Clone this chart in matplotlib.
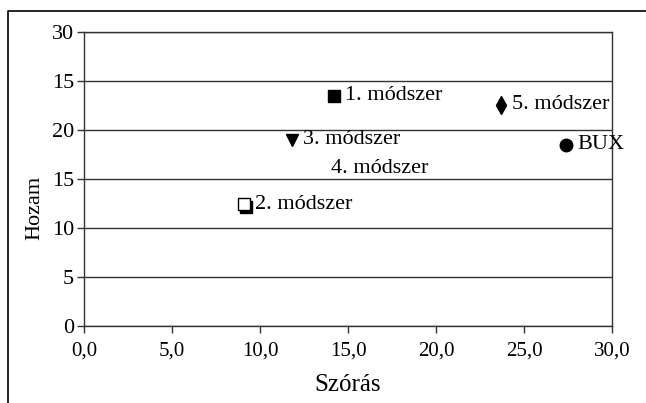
import matplotlib
matplotlib.use("Agg")
import matplotlib.pyplot as plt
import matplotlib.transforms as mtransforms
from matplotlib.lines import Line2D

plt.rcParams["font.family"] = ["Liberation Serif", "DejaVu Serif"]

# data
names = ["1. módszer", "2. módszer", "3. módszer", "4. módszer", "5. módszer", "BUX"]
szoras = [14.2, 9.1, 11.8, 13.4, 23.7, 27.4]
hozam = [23.5, 12.4, 19.0, 16.1, 22.6, 18.5]
markers = ["s", "s", "v", "s", "d", "o"]
styles = ["filled", "shadow", "filled", "none", "filled", "filled"]

x_ticks = [0, 5, 10, 15, 20, 25, 30]
x_labels = ["0,0", "5,0", "10,0", "15,0", "20,0", "25,0", "30,0"]
y_ticks = [0, 5, 10, 15, 20, 25, 30]
y_labels = ["0", "5", "10", "15", "20", "15", "30"]  # as printed in the source

W, H = 646, 403
fig = plt.figure(figsize=(W / 100, H / 100), dpi=100)
fig.patch.set_facecolor("white")
ax = fig.add_axes([84 / W, 1 - 326 / H, (612 - 84) / W, (326 - 32) / H])

shadow = ax.transData + mtransforms.ScaledTranslation(1.5 / 72, -1.5 / 72, fig.dpi_scale_trans)

for x, y, m, st, name in zip(szoras, hozam, markers, styles, names):
    ms = {"d": 9, "o": 9, "v": 9}.get(m, 8.5)
    if st == "filled":
        ax.plot([x], [y], marker=m, ms=ms, mfc="black", mec="black", ls="none", zorder=3)
    elif st == "shadow":
        ax.plot([x], [y], marker=m, ms=ms, mfc="black", mec="black", ls="none",
                zorder=3, transform=shadow)
        ax.plot([x], [y], marker=m, ms=ms, mfc="white", mec="black", mew=1.0,
                ls="none", zorder=4)
    ax.annotate(name, (x, y), xytext=(8, 0), textcoords="offset points",
                va="center", ha="left", fontsize=16)

ax.set_xlim(0, 30)
ax.set_ylim(0, 30)
ax.set_xticks(x_ticks)
ax.set_xticklabels(x_labels, fontsize=15)
ax.set_yticks(y_ticks)
ax.set_yticklabels(y_labels, fontsize=16)
ax.yaxis.grid(True, color="#333333", linewidth=1.0)
ax.set_axisbelow(True)
ax.tick_params(axis="both", direction="out", length=5, width=1, color="#333333")
ax.tick_params(axis="x", pad=6)
ax.tick_params(axis="y", pad=2)
for s in ax.spines.values():
    s.set_color("#333333")
    s.set_linewidth(1.0)
ax.set_xlabel("Szórás", fontsize=18)
ax.set_ylabel("Hozam", fontsize=16)
ax.xaxis.set_label_coords(0.5, -0.20)
ax.yaxis.set_label_coords(-0.093, 0.40)
ax.yaxis.label.set_va("center")
ax.xaxis.label.set_va("center")

# outer frame (left and top only visible)
fig.add_artist(Line2D([8 / W, 8 / W, 1], [0, 1 - 11 / H, 1 - 11 / H],
                      transform=fig.transFigure, color="black", linewidth=1.2))

fig.savefig("out.png", dpi=100)
